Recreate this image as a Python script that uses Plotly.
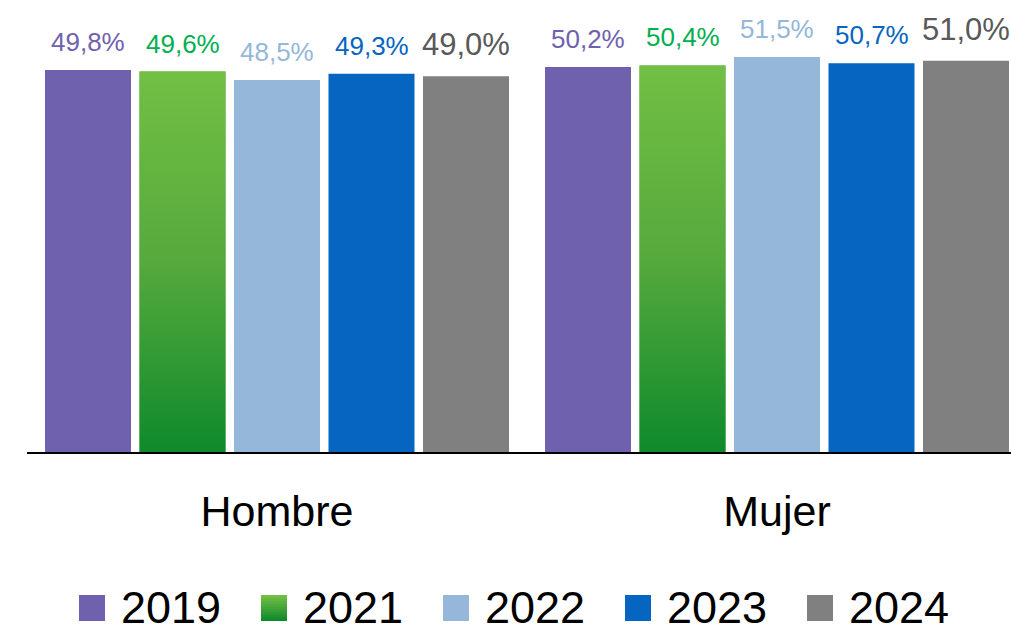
import plotly.graph_objects as go

categories = ["Hombre", "Mujer"]
series_names = ["2019", "2021", "2022", "2023", "2024"]
v2019 = [49.8, 50.2]
v2021 = [49.6, 50.4]
v2022 = [48.5, 51.5]
v2023 = [49.3, 50.7]
v2024 = [49.0, 51.0]
values = [v2019, v2021, v2022, v2023, v2024]

bar_colors = ["#6F61AE", "#56A93D", "#95B7D9", "#0565C1", "#808080"]
label_colors = ["#6F61AE", "#00B050", "#95B7D9", "#0565C1", "#595959"]
label_sizes = [26, 26, 26, 26, 31]
green_scale = [[0, "#0F8A2C"], [0.5, "#56A93D"], [1, "#72BF44"]]

FONT = "Liberation Sans, Arial, sans-serif"
W, H = 1011, 635
ML, MR, MT, MB = 27, 0, 0, 183
BARGAP, GROUPGAP = 0.055, 0.09
n = len(series_names)
xpos = list(range(len(categories)))
slot = (1 - BARGAP) / n
bw = slot * (1 - GROUPGAP)
XR = [-0.5, -0.5 + (W - ML - MR) / 500.0]

fig = go.Figure()
for j, name in enumerate(series_names):
    fig.add_trace(go.Bar(
        x=xpos, y=values[j], name=name,
        marker=dict(color=bar_colors[j], line=dict(width=0)),
        showlegend=False, hoverinfo="skip",
    ))

# gradient overlay for the 2021 bars
j = 1
for i, v in enumerate(values[j]):
    xc = xpos[i] + (j - (n - 1) / 2) * slot
    fig.add_trace(go.Scatter(
        x=[xc - bw / 2, xc + bw / 2, xc + bw / 2, xc - bw / 2, xc - bw / 2],
        y=[0, 0, v, v, 0],
        mode="lines", fill="toself",
        line=dict(width=0, color="rgba(0,0,0,0)"),
        fillgradient=dict(type="vertical", colorscale=green_scale),
        showlegend=False, hoverinfo="skip",
    ))

annotations = []
for j, name in enumerate(series_names):
    for i, v in enumerate(values[j]):
        xc = xpos[i] + (j - (n - 1) / 2) * slot
        annotations.append(dict(
            x=xc, y=v, xref="x", yref="y",
            text=f"{v:.1f}".replace(".", ",") + "%",
            showarrow=False, yanchor="bottom", xanchor="center",
            yshift=11 if label_sizes[j] < 30 else 12,
            font=dict(family=FONT, size=label_sizes[j], color=label_colors[j]),
        ))

# manual legend
plot_w = W - ML - MR
plot_h = H - MT - MB
def px(X):
    return (X - ML) / plot_w
def py(Y):
    return (plot_h - (Y - MT)) / plot_h

def hex2rgb(h):
    h = h.lstrip("#")
    return tuple(int(h[k:k + 2], 16) for k in (0, 2, 4))

shapes = []
icon = 26
leg_x0, pitch, leg_yc = 79, 182, 607
for j, name in enumerate(series_names):
    X0 = leg_x0 + j * pitch
    Y0 = leg_yc - icon / 2 + 1
    if j == 1:
        steps = 13
        c_top = hex2rgb("#72BF44")
        c_bot = hex2rgb("#0F8A2C")
        for s in range(steps):
            t = s / (steps - 1)
            c = tuple(int(round(c_top[k] + (c_bot[k] - c_top[k]) * t)) for k in range(3))
            ya = Y0 + icon * s / steps
            yb = Y0 + icon * (s + 1) / steps + 0.5
            shapes.append(dict(type="rect", xref="paper", yref="paper",
                               x0=px(X0), x1=px(X0 + icon), y0=py(min(yb, Y0 + icon)), y1=py(ya),
                               fillcolor="rgb(%d,%d,%d)" % c, line=dict(width=0)))
    else:
        shapes.append(dict(type="rect", xref="paper", yref="paper",
                           x0=px(X0), x1=px(X0 + icon), y0=py(Y0 + icon), y1=py(Y0),
                           fillcolor=bar_colors[j], line=dict(width=0)))
    annotations.append(dict(
        x=px(X0 + icon + 15), y=py(leg_yc), xref="paper", yref="paper",
        text=name, showarrow=False, xanchor="left", yanchor="middle",
        borderpad=0,
        font=dict(family=FONT, size=45, color="#000000"),
    ))

fig.update_layout(
    width=W, height=H,
    margin=dict(l=ML, r=MR, t=MT, b=MB),
    barmode="group", bargap=BARGAP, bargroupgap=GROUPGAP,
    plot_bgcolor="white", paper_bgcolor="white",
    showlegend=False,
    annotations=annotations, shapes=shapes,
    font=dict(family=FONT),
    xaxis=dict(range=XR, tickvals=xpos, ticktext=categories,
               showline=True, linecolor="#000000", linewidth=2,
               showgrid=False, zeroline=False, ticks="",
               ticklabelstandoff=20,
               tickfont=dict(family=FONT, size=43, color="#000000")),
    yaxis=dict(range=[0, plot_h / 7.67], visible=False, showgrid=False),
)

fig.write_html(
    "out.html",
    config={"displayModeBar": False},
    post_script="document.body.style.margin='0';document.body.style.overflow='hidden';",
)
